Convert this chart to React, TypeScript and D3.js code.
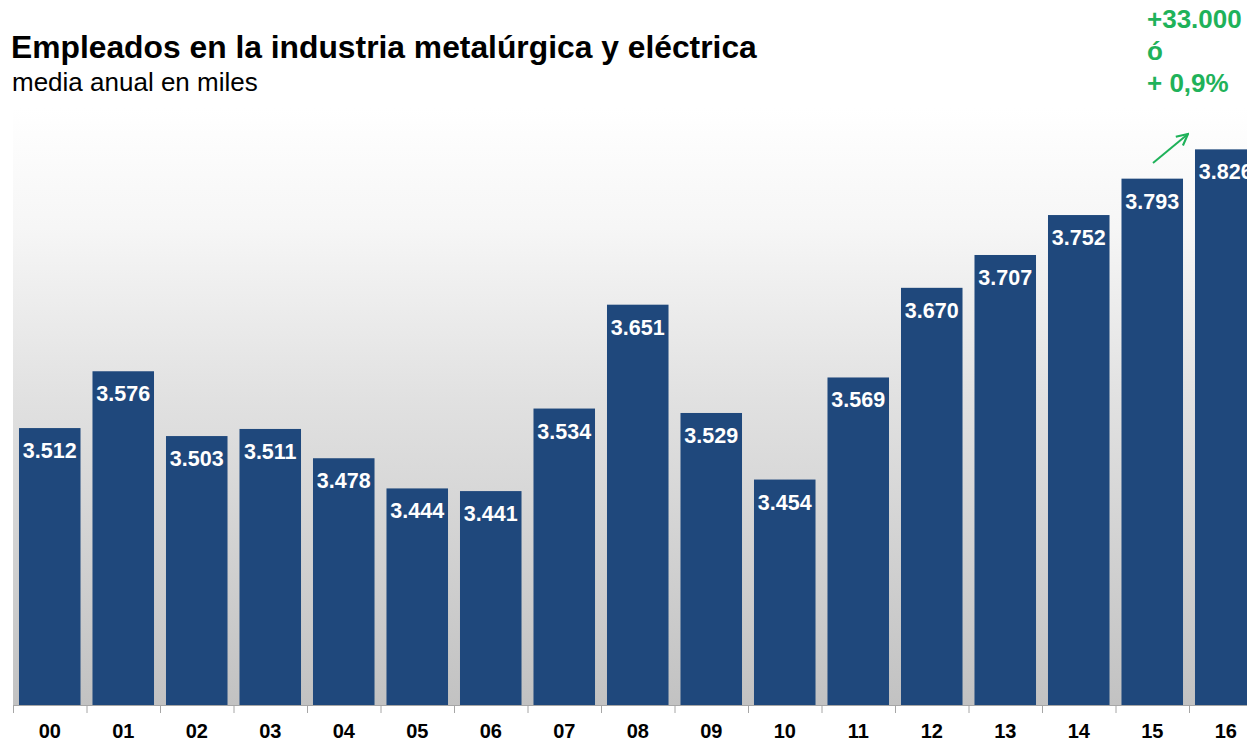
import React from 'react';
import * as d3 from 'd3';

// años (eje X) y empleados en miles
const years = ['00', '01', '02', '03', '04', '05', '06', '07', '08', '09', '10', '11', '12', '13', '14', '15', '16'];
const values = [3.512, 3.576, 3.503, 3.511, 3.478, 3.444, 3.441, 3.534, 3.651, 3.529, 3.454, 3.569, 3.670, 3.707, 3.752, 3.793, 3.826];
const noteLines = ['+33.000', 'ó', '+ 0,9%'];

const W = 1247;
const H = 741;
const FONT = '"Liberation Sans", Arial, sans-serif';

const App = () => {
  const left = 13;
  const step = 73.5;
  const baseY = 705;
  const plotTop = 108;

  const x = d3.scaleBand<string>()
    .domain(years)
    .range([left, left + step * years.length])
    .paddingInner(0.163)
    .paddingOuter(0.0815);

  const y = d3.scaleLinear()
    .domain([3.2, 3.9])
    .range([baseY, baseY - 0.7 * 887.6]);

  const fmt = (v: number) => v.toFixed(3);

  const lastX = (x(years[years.length - 1]) ?? 0);

  return (
    <svg width={W} height={H} style={{ position: 'absolute', left: 0, top: 0, display: 'block' }}>
      <defs>
        <linearGradient id="bg" x1="0" y1="0" x2="0" y2="1">
          <stop offset="0" stopColor="#ffffff" />
          <stop offset="0.2" stopColor="#f6f6f6" />
          <stop offset="0.5" stopColor="#e0e0e0" />
          <stop offset="1" stopColor="#c2c2c2" />
        </linearGradient>
        <marker id="arrow" viewBox="0 0 10 10" refX="9" refY="5" markerWidth="7" markerHeight="7" orient="auto">
          <path d="M1,1 L9,5 L1,9" fill="none" stroke="#1fb25a" strokeWidth="1.5" />
        </marker>
      </defs>
      <rect x={0} y={0} width={W} height={H} fill="#ffffff" />

      <text x={11} y={58} fontFamily={FONT} fontWeight="bold" fontSize={31.8} fill="#000">
        Empleados en la industria metalúrgica y eléctrica
      </text>
      <text x={12} y={91} fontFamily={FONT} fontSize={26} fill="#000">
        media anual en miles
      </text>

      <rect x={left} y={plotTop} width={W - left} height={baseY - plotTop} fill="url(#bg)" />

      {years.map((yr, i) => (
        <g key={yr}>
          <rect
            x={x(yr)}
            y={y(values[i])}
            width={x.bandwidth()}
            height={baseY - y(values[i])}
            fill="#1f487c"
          />
          <text
            x={(x(yr) ?? 0) + x.bandwidth() / 2}
            y={y(values[i]) + 30}
            textAnchor="middle"
            fontFamily={FONT}
            fontWeight="bold"
            fontSize={21.5}
            fill="#ffffff"
          >
            {fmt(values[i])}
          </text>
          <text
            x={(x(yr) ?? 0) + x.bandwidth() / 2}
            y={738}
            textAnchor="middle"
            fontFamily={FONT}
            fontWeight="bold"
            fontSize={20}
            fill="#000"
          >
            {yr}
          </text>
        </g>
      ))}

      <line x1={left} x2={W} y1={baseY + 0.5} y2={baseY + 0.5} stroke="#a6a6a6" strokeWidth={1} />
      {d3.range(years.length + 1).map(i => (
        <line
          key={i}
          x1={left + i * step + 0.5}
          x2={left + i * step + 0.5}
          y1={baseY}
          y2={baseY + 8}
          stroke="#a6a6a6"
          strokeWidth={1}
        />
      ))}

      <line
        x1={lastX - 42}
        y1={163}
        x2={lastX - 7}
        y2={134}
        stroke="#1fb25a"
        strokeWidth={2}
        markerEnd="url(#arrow)"
      />
      {noteLines.map((t, i) => (
        <text key={i} x={1147} y={28 + i * 32} fontFamily={FONT} fontWeight="bold" fontSize={26} fill="#1fb25a">
          {t}
        </text>
      ))}
    </svg>
  );
};

export default App;
